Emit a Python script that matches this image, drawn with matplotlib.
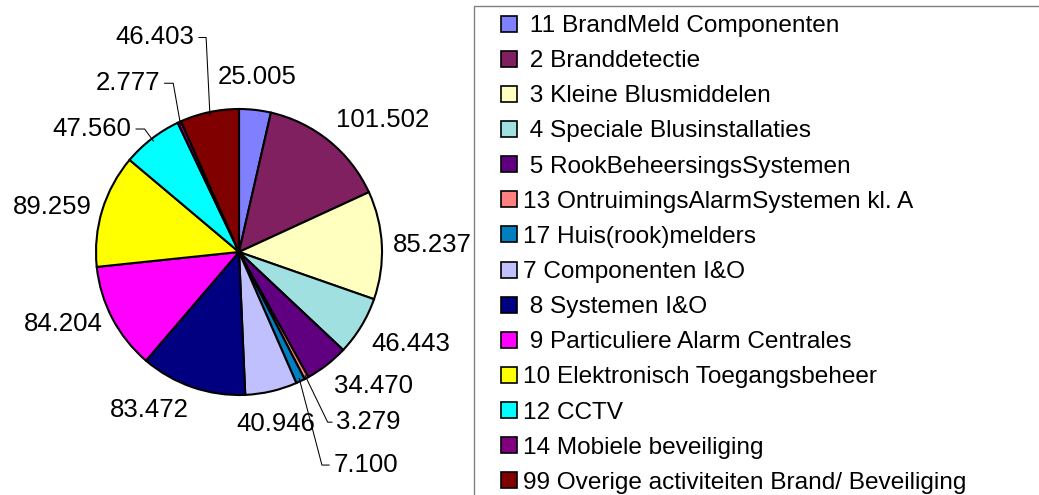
import numpy as np
import matplotlib
matplotlib.use("Agg")
import matplotlib.pyplot as plt
from matplotlib.patches import Rectangle

plt.rcParams["font.family"] = ["Liberation Sans", "DejaVu Sans"]

# data, in legend / clockwise order from 12 o'clock
categories = [
    " 11 BrandMeld Componenten",
    " 2 Branddetectie",
    " 3 Kleine Blusmiddelen",
    " 4 Speciale Blusinstallaties",
    " 5 RookBeheersingsSystemen",
    "13 OntruimingsAlarmSystemen kl. A",
    "17 Huis(rook)melders",
    "7 Componenten I&O",
    " 8 Systemen I&O",
    " 9 Particuliere Alarm Centrales",
    "10 Elektronisch Toegangsbeheer",
    "12 CCTV",
    "14 Mobiele beveiliging",
    "99 Overige activiteiten Brand/ Beveiliging",
]
values = [25.005, 101.502, 85.237, 46.443, 34.470, 3.279, 7.100,
          40.946, 83.472, 84.204, 89.259, 47.560, 2.777, 46.403]
value_labels = ["25.005", "101.502", "85.237", "46.443", "34.470", "3.279", "7.100",
                "40.946", "83.472", "84.204", "89.259", "47.560", "2.777", "46.403"]
colors = ["#8080FF", "#802060", "#FFFFC0", "#A0E0E0", "#600080", "#FF8080", "#0080C0",
          "#C0C0FF", "#000080", "#FF00FF", "#FFFF00", "#00FFFF", "#800080", "#800000"]

# labels that get a leader line: index -> (elbow point, text x) in pie radius units
leaders = {
    5: ((0.62, -1.19), 0.68),
    6: ((0.58, -1.49), 0.66),
    11: ((-0.66, 0.86), -0.75),
    12: ((-0.46, 1.18), -0.55),
    13: ((-0.23, 1.50), -0.31),
}

W, H = 1039, 495
CX, CY, R = 239, 252, 143  # pie centre and radius in pixels
FS = 18.5
LEG_FS = 17.6

fig = plt.figure(figsize=(W / 100, H / 100), dpi=100)
ax = fig.add_axes([0, 0, 478 / W, 1])

wedges, _ = ax.pie(values, colors=colors, startangle=90, counterclock=False,
                   radius=1.0, wedgeprops=dict(edgecolor="black", linewidth=1.5))
ax.set_aspect("auto")
ax.set_xlim(-CX / R, CX / R)
ax.set_ylim(-(H - CY) / R, CY / R)
ax.axis("off")

total = float(np.sum(values))
start = 0.0
for i, (v, lab) in enumerate(zip(values, value_labels)):
    mid = np.deg2rad((start + v / 2) / total * 360)
    start += v
    s, c = np.sin(mid), np.cos(mid)
    if i in leaders:
        (ex, ey), tx = leaders[i]
        hx = tx - 0.03 if tx > 0 else tx + 0.03
        ax.plot([s * 0.98, ex, hx], [c * 0.98, ey, ey], color="black", lw=0.75)
        ax.text(tx, ey, lab, ha="left" if tx > 0 else "right", va="center", fontsize=FS)
        continue
    ha = "left" if s > 0.3 else ("right" if s < -0.3 else "center")
    va = "bottom" if c > 0.5 else ("top" if c < -0.5 else "center")
    d = 1.15 if ha == "center" else 1.08
    ax.text(s * d, c * d, lab, ha=ha, va=va, fontsize=FS)

# legend panel in pixel coordinates
lg = fig.add_axes([0, 0, 1, 1], facecolor="none")
lg.set_xlim(0, W)
lg.set_ylim(H, 0)
lg.axis("off")
lg.add_patch(Rectangle((474, 6), 700, 600, facecolor="white", edgecolor="#808080", lw=1.0))
row0, step = 23.5, 35.15
for i, (name, col) in enumerate(zip(categories, colors)):
    y = row0 + i * step
    lg.add_patch(Rectangle((501, y - 8), 16, 16, facecolor=col, edgecolor="black", lw=1.2))
    lg.text(523, y + 8.5, name, ha="left", va="baseline", fontsize=LEG_FS)

fig.savefig("out.png", dpi=100)
